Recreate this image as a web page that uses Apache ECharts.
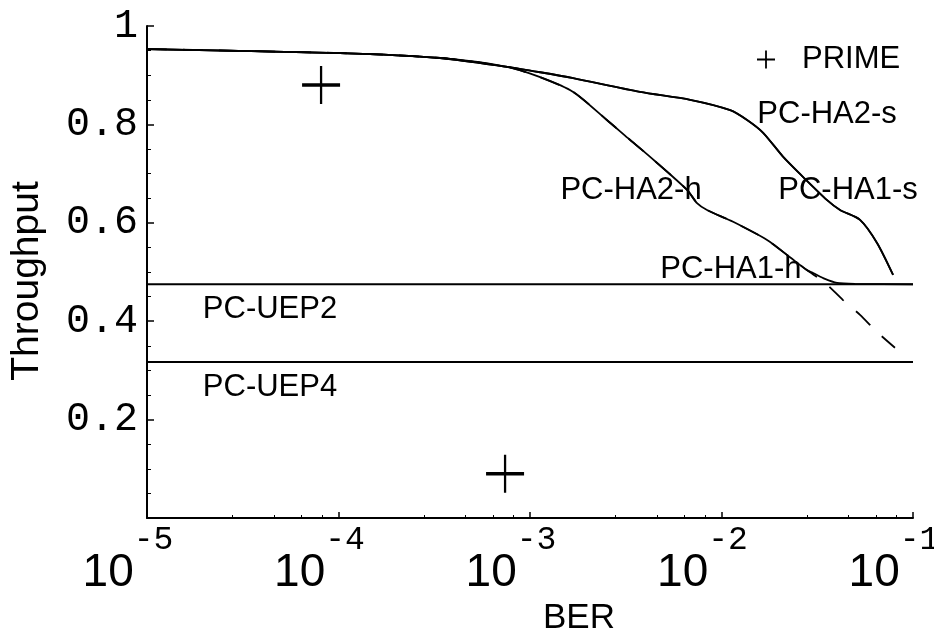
<!DOCTYPE html>
<html>
<head>
<meta charset="utf-8">
<script src="https://cdn.jsdelivr.net/npm/echarts@6/dist/echarts.min.js"></script>
<style>
html,body{margin:0;padding:0;background:#fff;}
#chart{width:934px;height:629px;}
</style>
</head>
<body>
<div id="chart"></div>
<script>
// ---- data (BER, throughput) ----
const yTicks = [0.2, 0.4, 0.6, 0.8, 1];
const xExponents = [-5, -4, -3, -2, -1];

const ha2s = [[1e-5,0.953],[1.02e-4,0.945],[3.39e-4,0.935],[7.59e-4,0.917],[1.13e-3,0.906],[1.68e-3,0.894],[3.75e-3,0.866],[6.86e-3,0.850],[1.11e-2,0.829],[1.36e-2,0.809],[1.65e-2,0.783],[2.10e-2,0.734],[2.67e-2,0.693],[3.56e-2,0.646],[4.16e-2,0.626],[5.29e-2,0.606],[6.49e-2,0.559],[7.87e-2,0.494]];
const ha1s = [[1e-5,0.953],[1.02e-4,0.945],[3.39e-4,0.935],[7.59e-4,0.917],[1.13e-3,0.906],[1.68e-3,0.894],[3.75e-3,0.866],[6.86e-3,0.850],[1.11e-2,0.829],[1.36e-2,0.809],[1.65e-2,0.783],[2.10e-2,0.734],[2.67e-2,0.693],[3.56e-2,0.646],[4.16e-2,0.626],[5.29e-2,0.606],[6.49e-2,0.559],[7.87e-2,0.494]];
const ha2h = [[1e-5,0.953],[1.02e-4,0.945],[3.39e-4,0.935],[7.59e-4,0.917],[1.13e-3,0.896],[1.68e-3,0.866],[2.52e-3,0.809],[3.25e-3,0.772],[4.24e-3,0.734],[6.61e-3,0.667],[7.45e-3,0.640],[8.40e-3,0.626],[1.15e-2,0.602],[1.73e-2,0.565],[2.28e-2,0.530],[2.79e-2,0.504],[3.47e-2,0.478],[4.31e-2,0.443],[5.29e-2,0.413],[6.49e-2,0.378],[8.05e-2,0.346]];
const ha1h = [[1e-5,0.953],[1.02e-4,0.945],[3.39e-4,0.935],[7.59e-4,0.917],[1.13e-3,0.896],[1.68e-3,0.866],[2.52e-3,0.809],[3.25e-3,0.772],[4.24e-3,0.734],[6.61e-3,0.667],[7.45e-3,0.640],[8.40e-3,0.626],[1.15e-2,0.602],[1.73e-2,0.565],[2.28e-2,0.530],[2.79e-2,0.504],[3.01e-2,0.498],[3.47e-2,0.486],[4.01e-2,0.478],[4.98e-2,0.476],[0.1,0.475]];
const uep2 = [[1e-5,0.475],[0.1,0.475]];
const uep4 = [[1e-5,0.317],[0.1,0.317]];
const prime = [[8.11e-5,0.880],[7.41e-4,0.090]];

// annotation texts anchored in data space: [text, BER, throughput]
const annotations = [
  ['PC-HA2-s', 0.0356, 0.821],
  ['PC-HA1-s', 0.0458, 0.665],
  ['PC-HA2-h', 3.37e-3, 0.665],
  ['PC-HA1-h', 0.0112, 0.506],
  ['PC-UEP2', 4.39e-5, 0.424],
  ['PC-UEP4', 4.39e-5, 0.266]
];

const crossBig = 'path://M-1.2,-20 L1.2,-20 L1.2,-1.8 L20,-1.8 L20,1.8 L1.2,1.8 L1.2,20 L-1.2,20 L-1.2,1.8 L-20,1.8 L-20,-1.8 L-1.2,-1.8 Z';
const crossSmall = 'path://M-2,-20 L2,-20 L2,-2 L20,-2 L20,2 L2,2 L2,20 L-2,20 L-2,2 L-20,2 L-20,-2 L-2,-2 Z';

const chart = echarts.init(document.getElementById('chart'));
const lineBase = {type:'line', showSymbol:false, symbol:'none', smooth:0.25, silent:true,
  lineStyle:{color:'#000', width:1.8}, z:3};

chart.setOption({
  animation:false,
  backgroundColor:'#fff',
  grid:{left:147, right:21, top:26, bottom:111, containLabel:false, outerBoundsMode:'none'},
  legend:{
    data:[{name:'PRIME', icon:crossSmall}],
    left:752, top:39, itemWidth:18, itemHeight:18,
    itemStyle:{opacity:1},
    textStyle:{fontFamily:'Liberation Sans', fontSize:31, color:'#000', padding:[0,0,0,22]}
  },
  xAxis:{
    type:'log', logBase:10, min:1e-5, max:0.1,
    name:'BER', nameLocation:'middle', nameGap:74,
    nameTextStyle:{fontFamily:'Liberation Sans', fontSize:35, color:'#000', padding:[0,0,0,98]},
    axisLine:{lineStyle:{color:'#000', width:2}},
    axisTick:{inside:true, length:6, lineStyle:{color:'#000', width:1.5}},
    minorTick:{show:true, splitNumber:5, length:3, lineStyle:{color:'#000', width:1}},
    splitLine:{show:false}, minorSplitLine:{show:false},
    axisLabel:{
      margin:6, showMinLabel:true, showMaxLabel:true, hideOverlap:false,
      formatter:function(v){
        const e = Math.round(Math.log10(v));
        if (xExponents.indexOf(e) < 0) return '';
        return '{b|10}{e|' + e + '}{s|}';
      },
      rich:{
        b:{fontFamily:'Liberation Sans', fontSize:46, color:'#000', verticalAlign:'bottom', lineHeight:46},
        e:{fontFamily:'Liberation Mono', fontSize:33, color:'#000', verticalAlign:'top', lineHeight:43},
        s:{width:38, lineHeight:72}
      }
    }
  },
  yAxis:{
    type:'value', min:0, max:1, interval:0.2,
    name:'Throughput', nameLocation:'middle', nameGap:100, nameRotate:90,
    nameTextStyle:{fontFamily:'Liberation Sans', fontSize:39, color:'#000', padding:[0,18,0,0]},
    axisLine:{lineStyle:{color:'#000', width:2}},
    axisTick:{inside:true, length:7, lineStyle:{color:'#000', width:1.5}},
    minorTick:{show:true, splitNumber:4, length:4, lineStyle:{color:'#000', width:1}},
    splitLine:{show:false}, minorSplitLine:{show:false},
    axisLabel:{
      margin:9, fontFamily:'Liberation Mono', fontSize:40, color:'#000',
      formatter:function(v){
        if (yTicks.indexOf(Math.round(v*10)/10) < 0) return '';
        return v === 1 ? '1' : v.toFixed(1);
      }
    }
  },
  series:[
    Object.assign({}, lineBase, {name:'PC-HA2-s', data:ha2s}),
    Object.assign({}, lineBase, {name:'PC-HA1-s', data:ha1s}),
    Object.assign({}, lineBase, {name:'PC-HA2-h', data:ha2h, lineStyle:{color:'#000', width:1.8, type:[20,16]}}),
    Object.assign({}, lineBase, {name:'PC-HA1-h', data:ha1h}),
    Object.assign({}, lineBase, {name:'PC-UEP2', data:uep2, smooth:false, lineStyle:{color:'#000', width:2}}),
    Object.assign({}, lineBase, {name:'PC-UEP4', data:uep4, smooth:false, lineStyle:{color:'#000', width:2}}),
    {name:'PRIME', type:'scatter', data:prime, symbol:crossBig, symbolSize:38,
     itemStyle:{color:'#000', opacity:1}, silent:true, z:4},
    {name:'labels', type:'scatter', symbolSize:0, silent:true, z:5,
     itemStyle:{opacity:1},
     data:annotations.map(a => ({value:[a[1], a[2]], name:a[0]})),
     label:{show:true, position:'inside', formatter:'{b}', fontFamily:'Liberation Sans',
       fontSize:31, color:'#000', opacity:1}}
  ]
});
</script>
</body>
</html>
